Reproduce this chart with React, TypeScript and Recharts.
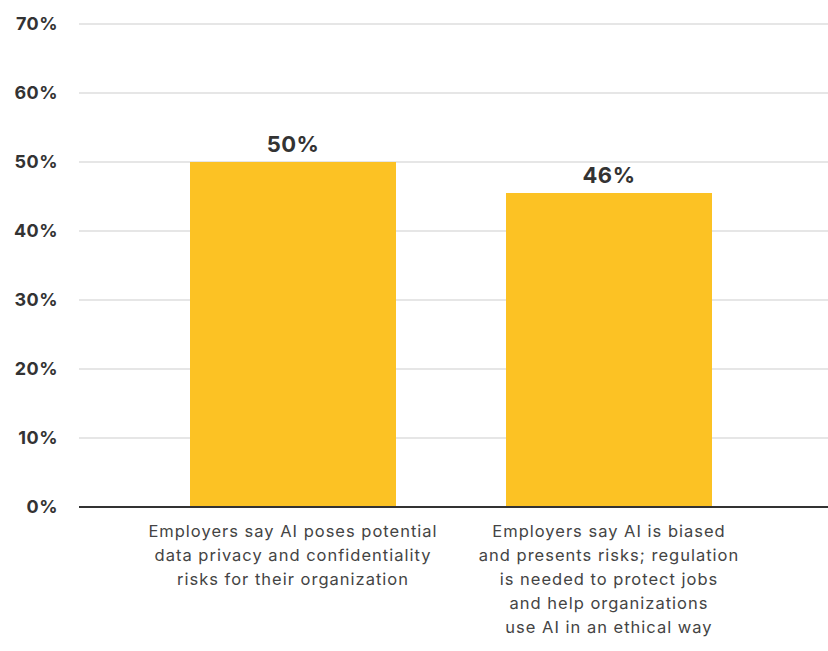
import React from 'react';
import { BarChart, Bar, XAxis, YAxis, CartesianGrid, LabelList } from 'recharts';

// categories, split into the lines they are drawn on
const categoryLines = [
  ['Employers say AI poses potential', 'data privacy and confidentiality', 'risks for their organization'],
  ['Employers say AI is biased', 'and presents risks; regulation', 'is needed to protect jobs', 'and help organizations', 'use AI in an ethical way'],
];
const categories = categoryLines.map((lines) => lines.join(' '));
const shares = [50, 45.5];
const yTicks = [0, 10, 20, 30, 40, 50, 60, 70];

const data = categories.map((name, i) => ({ name, share: shares[i] }));

const FONT = 'Inter, "Open Sans", sans-serif';

const CategoryTick = (props: any) => {
  const { x, y, payload } = props;
  const idx = categories.indexOf(payload.value);
  const lines = idx >= 0 ? categoryLines[idx] : [payload.value];
  return (
    <text
      x={x}
      y={y + 22}
      textAnchor="middle"
      fill="#444"
      fontSize={16.5}
      letterSpacing={1}
      fontFamily={FONT}
    >
      {lines.map((line, i) => (
        <tspan key={i} x={x} dy={i === 0 ? 0 : 24}>
          {line}
        </tspan>
      ))}
    </text>
  );
};

export default function App() {
  return (
    <div style={{ position: 'absolute', left: 0, top: 0, background: '#fff' }}>
      <BarChart width={828} height={651} data={data} margin={{ top: 24, right: 0, bottom: 0, left: 0 }}>
        <CartesianGrid vertical={false} stroke="#dedede" strokeWidth={1.5} />
        <XAxis
          dataKey="name"
          height={144}
          padding={{ left: 56, right: 61 }}
          axisLine={{ stroke: '#333', strokeWidth: 2 }}
          tickLine={false}
          tick={<CategoryTick />}
          interval={0}
        />
        <YAxis
          width={79}
          domain={[0, 70]}
          ticks={yTicks}
          axisLine={false}
          tickLine={false}
          tickMargin={15}
          tickFormatter={(v: number) => `${v}%`}
          tick={{ fill: '#333', fontSize: 18, fontWeight: 700, fontFamily: FONT, letterSpacing: 0.5 }}
        />
        <Bar dataKey="share" fill="#FCC224" barSize={206} isAnimationActive={false}>
          <LabelList
            dataKey="share"
            position="top"
            offset={10}
            formatter={(v: any) => `${Math.round(Number(v))}%`}
            style={{ fill: '#333', fontSize: 22, fontWeight: 700, fontFamily: FONT, letterSpacing: 0.5 }}
          />
        </Bar>
      </BarChart>
    </div>
  );
}
